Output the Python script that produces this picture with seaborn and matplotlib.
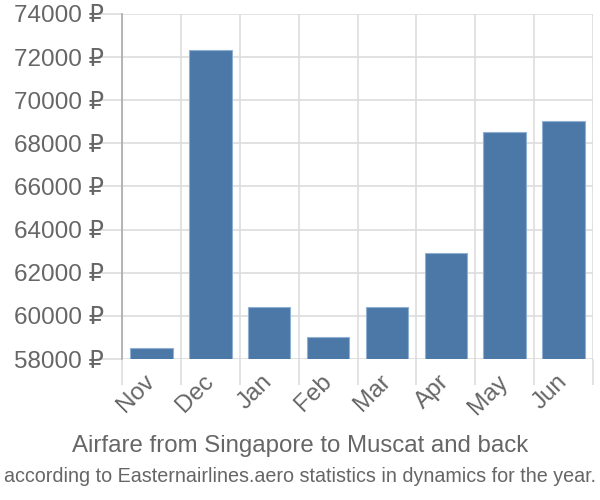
import matplotlib
matplotlib.use("Agg")
import matplotlib.pyplot as plt
import seaborn as sns
import numpy as np
import pandas as pd

months = ["Nov", "Dec", "Jan", "Feb", "Mar", "Apr", "May", "Jun"]
prices = [58500, 72350, 60420, 59020, 60420, 62930, 68550, 69020]
yticks = [58000, 60000, 62000, 64000, 66000, 68000, 70000, 72000, 74000]
ytick_labels = [f"{v} ₽" for v in yticks]

title = "Airfare from Singapore to Muscat and back"
subtitle = "according to Easternairlines.aero statistics in dynamics for the year."

sns.set_style("white")
plt.rcParams["font.family"] = ["Liberation Sans", "DejaVu Sans"]

df = pd.DataFrame({"month": months, "price": prices})

fig = plt.figure(figsize=(6, 5), dpi=100)
ax = fig.add_axes([122 / 600, 1 - 359 / 500, (593 - 122) / 600, (359 - 14) / 500])

sns.barplot(data=df, x="month", y="price", color="#4c78a8", saturation=1,
            width=0.72, edgecolor="#8fb0d3", linewidth=0.8, ax=ax, zorder=3)

ax.set_ylim(58000, 74000)
ax.set_xlim(-0.5, len(months) - 0.5)
ax.set_yticks(yticks)
ax.set_yticklabels(ytick_labels)
ax.set_xticks(np.arange(len(months)))
ax.set_xticklabels(months, rotation=45, ha="right", va="center", rotation_mode="anchor")
ax.set_xticks(np.arange(len(months) + 1) - 0.5, minor=True)

grid_c = "#dddddd"
ax.grid(True, axis="y", which="major", color=grid_c, linewidth=1.2, zorder=0)
ax.grid(True, axis="x", which="minor", color=grid_c, linewidth=1.2, zorder=0)
ax.set_axisbelow(True)

ax.tick_params(axis="y", which="major", length=19, width=1.2, color=grid_c,
               labelsize=17.5, labelcolor="#666666", pad=-6, left=True)
ax.tick_params(axis="x", which="major", length=0, labelsize=17.5,
               labelcolor="#666666", pad=14)
ax.tick_params(axis="x", which="minor", length=19, width=1.2, color=grid_c, bottom=True)

for s in ["top", "right", "bottom"]:
    ax.spines[s].set_visible(False)
ax.spines["left"].set_color("#aaaaaa")
ax.spines["left"].set_linewidth(1.2)

ax.set_xlabel("")
ax.set_ylabel("")

fig.text(0.5, 1 - 446 / 500, title, ha="center", va="center", fontsize=17.3, color="#666666")
fig.text(0.5, 1 - 476 / 500, subtitle, ha="center", va="center", fontsize=14.2,
         color="#666666")

fig.savefig("out.png", dpi=100)
